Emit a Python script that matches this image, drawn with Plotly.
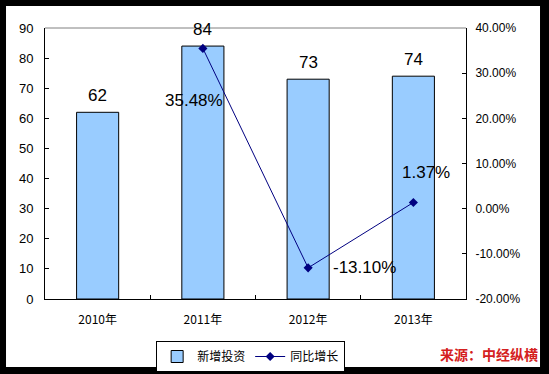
import plotly.graph_objects as go

categories = ["2010年", "2011年", "2012年", "2013年"]
investment = [62, 84, 73, 74]
growth = [None, 35.48, -13.10, 1.37]
growth_labels = ["", "35.48%", "-13.10%", "1.37%"]
left_ticks = [0, 10, 20, 30, 40, 50, 60, 70, 80, 90]
right_ticks = [-20, -10, 0, 10, 20, 30, 40]
right_tick_text = ["-20.00%", "-10.00%", "0.00%", "10.00%", "20.00%", "30.00%", "40.00%"]

FONT = "Liberation Sans, Arial, sans-serif"
CJK = "Noto Sans CJK SC, sans-serif"

fig = go.Figure()
fig.add_trace(go.Bar(
    x=categories, y=investment, name="新增投资",
    marker=dict(color="#99CCFF", line=dict(color="black", width=1)),
    width=0.4,
))
fig.add_trace(go.Scatter(
    x=categories, y=growth, name="同比增长", yaxis="y2",
    mode="lines+markers",
    line=dict(color="#000080", width=1),
    marker=dict(symbol="diamond", size=7, color="#000080"),
))

annotations = []
for c, v in zip(categories, investment):
    annotations.append(dict(x=c, y=v, xref="x", yref="y", text=str(v),
                            showarrow=False, yanchor="bottom", yshift=5,
                            font=dict(family=FONT, size=17, color="black")))
label_offsets = [None, (-9, -52, "center"), (23, 0, "left"), (13, 30, "center")]
for c, v, t, off in zip(categories, growth, growth_labels, label_offsets):
    if v is None:
        continue
    dx, dy, anc = off
    annotations.append(dict(x=c, y=v, xref="x", yref="y2", text=t,
                            showarrow=False, xanchor=anc, yanchor="middle",
                            xshift=dx, yshift=dy,
                            font=dict(family=FONT, size=17, color="black")))
annotations.append(dict(x=1.1758, y=-0.2509, xref="paper", yref="paper",
                        text="<b>来源：中经纵横</b>", showarrow=False,
                        xanchor="right", yanchor="bottom", yshift=1,
                        font=dict(family=CJK, size=14, color="#D42020")))

shapes = [
    dict(type="rect", xref="paper", yref="paper", x0=-0.0926, x1=1.1758,
         y0=-0.2509, y1=1.0812, fillcolor="white", line=dict(width=0), layer="below"),
    dict(type="line", xref="paper", yref="paper", x0=0, x1=1, y0=1, y1=1,
         line=dict(color="#808080", width=1)),
]

fig.update_layout(
    width=549, height=374,
    margin=dict(l=45, r=83, t=28, b=75, autoexpand=False),
    paper_bgcolor="black", plot_bgcolor="white",
    font=dict(family=FONT, size=12, color="black"),
    showlegend=True,
    legend=dict(orientation="h", x=0.264, y=-0.155, xanchor="left", yanchor="top",
                bordercolor="black", borderwidth=1, bgcolor="white",
                font=dict(family=CJK, size=12, color="black"),
                itemwidth=30, tracegroupgap=0),
    xaxis=dict(showline=True, linecolor="black", linewidth=1,
               ticks="inside", ticklen=4, tickcolor="black", tickson="boundaries",
               tickfont=dict(family=CJK, size=12), showgrid=False,
               ticklabelstandoff=10),
    yaxis=dict(range=[0, 90], tickvals=left_ticks, showline=True, linecolor="black",
               linewidth=1, ticks="inside", ticklen=4, tickcolor="black",
               showgrid=False, zeroline=False, tickfont=dict(size=13),
               ticklabelstandoff=8),
    yaxis2=dict(range=[-20, 40], tickvals=right_ticks, ticktext=right_tick_text,
                overlaying="y", side="right", showline=True, linecolor="black",
                linewidth=1, ticks="inside", ticklen=4, tickcolor="black",
                showgrid=False, zeroline=False, tickfont=dict(size=12),
                ticklabelstandoff=6),
    annotations=annotations, shapes=shapes,
    bargap=0.6,
)

fig.write_html("out.html", config={"displayModeBar": False},
               post_script="document.body.style.margin='0';document.body.style.padding='0';")
